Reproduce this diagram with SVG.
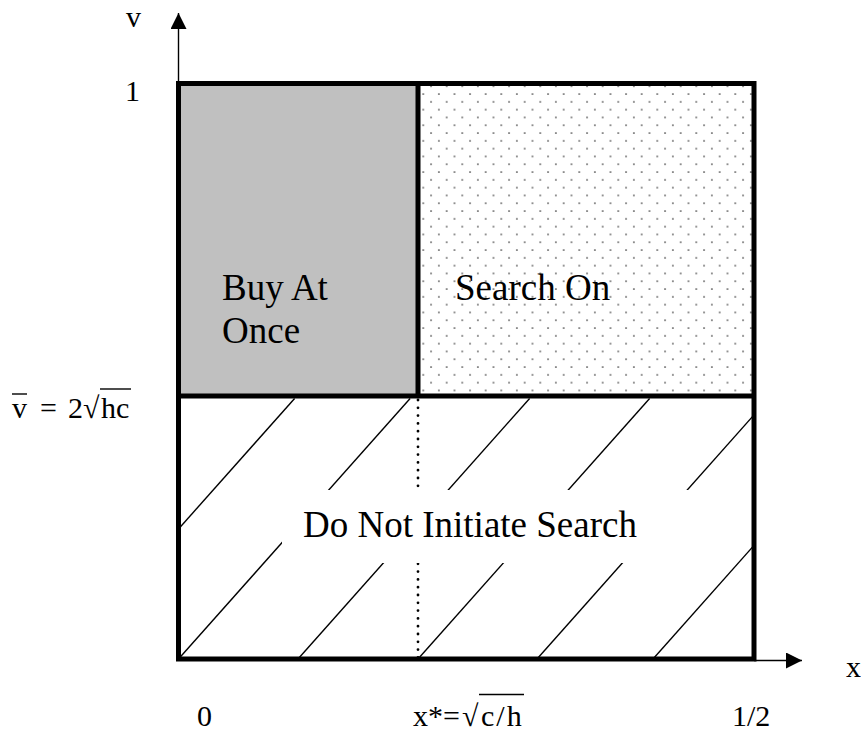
<svg xmlns="http://www.w3.org/2000/svg" width="861" height="734" viewBox="0 0 861 734">
  <style>
    .lbl { font-family: "Liberation Serif", "Times New Roman", serif; font-size: 30px; fill: #000; }
    .region { font-family: "Liberation Serif", "Times New Roman", serif; font-size: 37px; fill: #000; }
    .border { fill: none; stroke: #000; stroke-width: 5; }
    .thin { fill: none; stroke: #000; stroke-width: 1.4; }
    .hatch { fill: none; stroke: #000; stroke-width: 1.4; }
    .dotline { fill: none; stroke: #000; stroke-width: 2.8; stroke-linecap: round; stroke-dasharray: 0 7.8; }
  </style>
  <defs>
    <pattern id="dots" patternUnits="userSpaceOnUse" x="419.4" y="90.1" width="15.6" height="15.6">
      <circle cx="3.9" cy="3.9" r="0.85" fill="#333"/>
      <circle cx="11.7" cy="11.7" r="0.85" fill="#333"/>
    </pattern>
    <marker id="arrow" viewBox="0 0 16 16" refX="16" refY="8" markerWidth="16" markerHeight="16" markerUnits="userSpaceOnUse" orient="auto">
      <path d="M0,0 L16,8 L0,16 Z" fill="#000"/>
    </marker>
  </defs>

  <rect width="861" height="734" fill="#fff"/>

  <!-- axes -->
  <g id="axes">
    <line class="thin" x1="178.5" y1="85" x2="178.5" y2="13" marker-end="url(#arrow)"/>
    <line class="thin" x1="754" y1="660.5" x2="802" y2="660.5" marker-end="url(#arrow)"/>
    <text class="lbl" x="126" y="27">v</text>
    <text class="lbl" x="846" y="677">x</text>
  </g>

  <!-- Buy At Once region -->
  <g id="buy-at-once">
    <rect x="178.5" y="83" width="239.5" height="313" fill="#c0c0c0"/>
    <text class="region" x="222" y="300">Buy At</text>
    <text class="region" x="222" y="343">Once</text>
  </g>

  <!-- Search On region -->
  <g id="search-on">
    <rect x="418" y="84.5" width="336" height="311.5" fill="url(#dots)"/>
    <text class="region" x="455" y="300">Search On</text>
  </g>

  <!-- Do Not Initiate Search region: hatching, label box -->
  <g id="do-not-search">
    <g class="hatch">
      <line x1="178.5" y1="529" x2="294.6" y2="398.5"/>
      <line x1="178.5" y1="659" x2="410.1" y2="398.5"/>
      <line x1="298" y1="659" x2="529.6" y2="398.5"/>
      <line x1="418" y1="659" x2="649.6" y2="398.5"/>
      <line x1="537" y1="659" x2="754" y2="414.9"/>
      <line x1="653" y1="659" x2="754" y2="545.4"/>
    </g>
    <line class="dotline" x1="418" y1="400" x2="418" y2="660"/>
    <rect x="282" y="490" width="430" height="73" fill="#fff"/>
    <text class="region" x="303" y="537">Do Not Initiate Search</text>
  </g>

  <!-- region borders -->
  <g id="borders">
    <rect class="border" x="178.5" y="83.5" width="575.5" height="575.5"/>
    <line class="border" x1="418" y1="83.5" x2="418" y2="396"/>
    <line class="border" x1="178.5" y1="396" x2="754" y2="396"/>
  </g>

  <!-- axis value labels -->
  <g id="y-labels">
    <text class="lbl" x="125" y="101">1</text>
    <text class="lbl" x="12" y="418">v</text>
    <line class="thin" x1="12" y1="394" x2="27" y2="394"/>
    <text class="lbl" x="40" y="418">=</text>
    <text class="lbl" x="68" y="418">2</text>
    <text class="lbl" x="83" y="418">√</text>
    <text class="lbl" x="101" y="418">hc</text>
    <line class="thin" x1="100" y1="389" x2="131" y2="389"/>
  </g>
  <g id="x-labels">
    <text class="lbl" x="197" y="726">0</text>
    <text class="lbl" x="413" y="726">x*=</text>
    <text class="lbl" x="462" y="726">√</text>
    <text class="lbl" x="481" y="726" letter-spacing="2">c/h</text>
    <line class="thin" x1="479" y1="694.5" x2="524" y2="694.5"/>
    <text class="lbl" x="732" y="726">1/2</text>
  </g>
</svg>
